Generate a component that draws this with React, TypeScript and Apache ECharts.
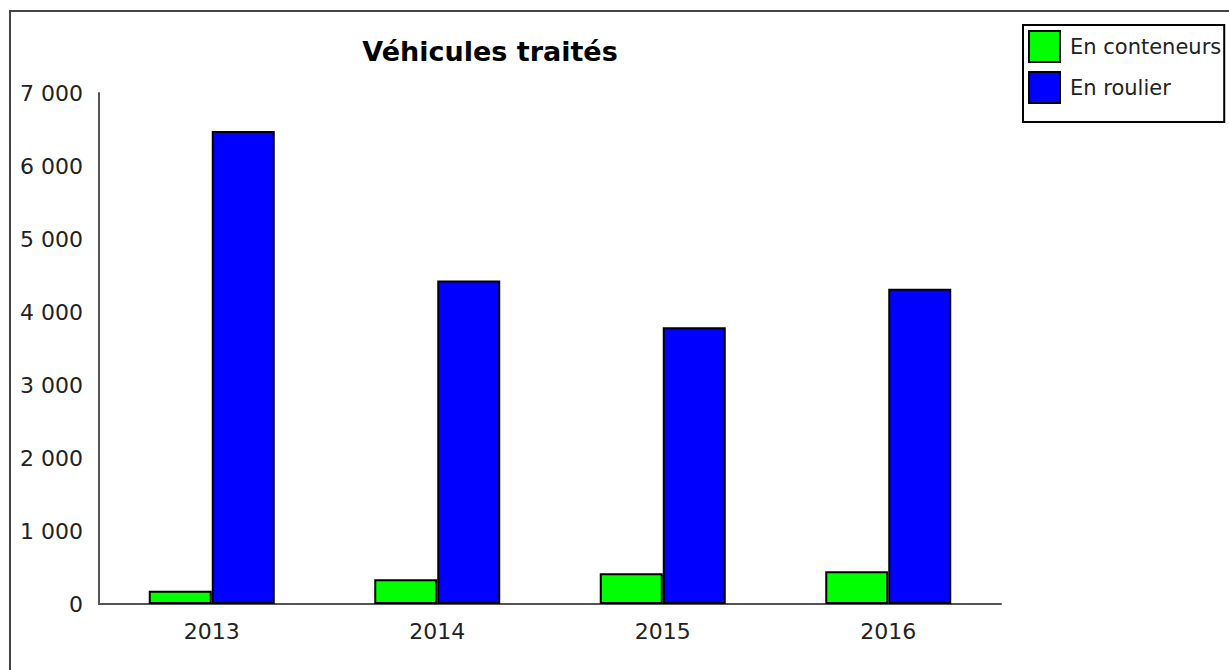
import React, { useEffect, useRef } from "react";
import * as echarts from "echarts";

const categories = ["2013", "2014", "2015", "2016"];
const conteneurs = [180, 340, 420, 450];
const roulier = [6480, 4430, 3790, 4320];
const yTicks = [0, 1000, 2000, 3000, 4000, 5000, 6000, 7000];

const FONT = "DejaVu Sans";

export default function App() {
  const ref = useRef<HTMLDivElement>(null);
  useEffect(() => {
    const chart = echarts.init(ref.current!, null, { renderer: "svg" });
    chart.setOption({
      animation: false,
      backgroundColor: "#fff",
      title: {
        text: "Véhicules traités",
        left: 485,
        top: 33,
        textAlign: "center",
        textStyle: { fontFamily: FONT, fontSize: 27, fontWeight: "bold", color: "#000", letterSpacing: -1 },
      },
      graphic: [
        {
          type: "rect",
          shape: { x: 10, y: 11, width: 1240, height: 680 },
          style: { fill: "none", stroke: "#444", lineWidth: 2 },
          silent: true,
        },
      ],
      legend: {
        orient: "vertical",
        left: 1023,
        top: 25,
        padding: [5, 3, 18, 5],
        itemGap: 8,
        itemWidth: 31,
        itemHeight: 31,
        icon: "rect",
        borderColor: "#000",
        borderWidth: 2,
        textStyle: { fontFamily: FONT, fontSize: 21, color: "#222", padding: [0, 0, 0, 5] },
        data: ["En conteneurs", "En roulier"],
      },
      grid: { left: 99, top: 93, right: 228, bottom: 66, containLabel: false },
      xAxis: {
        type: "category",
        data: categories,
        axisLine: { lineStyle: { color: "#555", width: 2 } },
        axisTick: { show: false },
        axisLabel: { fontFamily: FONT, fontSize: 22, color: "#222", margin: 16 },
      },
      yAxis: {
        type: "value",
        min: yTicks[0],
        max: yTicks[yTicks.length - 1],
        interval: 1000,
        axisLine: { show: true, lineStyle: { color: "#555", width: 2 } },
        axisTick: { show: false },
        splitLine: { show: false },
        axisLabel: {
          fontFamily: FONT,
          fontSize: 22,
          color: "#222",
          margin: 16,
          formatter: (v: number) => String(v).replace(/\B(?=(\d{3})+(?!\d))/g, " "),
        },
      },
      series: [
        {
          name: "En conteneurs",
          type: "bar",
          data: conteneurs,
          barWidth: 63,
          barGap: "0%",
          itemStyle: { color: "#00ff00", borderColor: "#000", borderWidth: 2 },
        },
        {
          name: "En roulier",
          type: "bar",
          data: roulier,
          barWidth: 63,
          barGap: "0%",
          itemStyle: { color: "#0000ff", borderColor: "#000", borderWidth: 2 },
        },
      ],
    });
    return () => chart.dispose();
  }, []);
  return (
    <div
      ref={ref}
      style={{ position: "fixed", left: 0, top: 0, width: 1229, height: 670 }}
    />
  );
}
